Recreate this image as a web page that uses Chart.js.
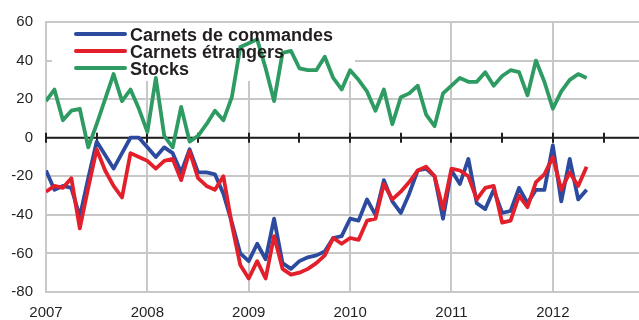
<!DOCTYPE html>
<html>
<head>
  <meta charset="UTF-8">
  <title>Carnets de commandes et stocks</title>
  <script src="https://cdn.jsdelivr.net/npm/chart.js"></script>
  <style>
    body {
      margin: 0;
      background: #fff;
    }
    .wrap {
      width: 639px;
      height: 320px;
    }
  </style>
</head>
<body>
  <div class="wrap">
    <canvas id="grafik"></canvas>
  </div>

  <script>
    // Soldes d'opinion mensuels, janvier 2007 - mai 2012
    const annees = [2007, 2008, 2009, 2010, 2011, 2012];
    const mois = [];
    for (const a of annees) {
      for (let m = 1; m <= 12; m++) {
        if (a === 2012 && m > 5) break;
        mois.push(a + '-' + String(m).padStart(2, '0'));
      }
    }

    const carnetsCommandes = [
      -17, -27, -25, -26, -41, -21, -2, -9, -16, -8, 0, 0,
      -5, -10, -5, -8, -18, -6, -18, -18, -19, -29, -44, -60,
      -64, -55, -63, -42, -65, -68, -64, -62, -61, -59, -52, -51,
      -42, -43, -32, -40, -22, -33, -39, -29, -17, -16, -20, -42,
      -17, -24, -11, -34, -37, -27, -39, -38, -26, -34, -27, -27,
      -4, -33, -11, -32, -27
    ];
    const carnetsEtrangers = [
      -28, -25, -26, -21, -47, -26, -6, -17, -25, -31, -8, -10,
      -12, -16, -12, -11, -22, -7, -21, -25, -27, -20, -45, -66,
      -73, -64, -73, -51, -68, -71, -70, -68, -65, -61, -52, -55,
      -52, -53, -43, -42, -24, -32, -28, -23, -17, -15, -20, -37,
      -16, -17, -20, -32, -26, -25, -44, -43, -30, -36, -23, -19,
      -10, -27, -18, -25, -15
    ];
    const stocks = [
      19, 25, 9, 14, 15, -5, 7, 20, 33, 19, 25, 15,
      3, 31, 1, -5, 16, -2, 1, 7, 14, 9, 21, 47,
      49, 51, 36, 19, 44, 45, 36, 35, 35, 42, 31, 25,
      35, 30, 24, 14, 25, 7, 21, 23, 27, 12, 6, 23,
      27, 31, 29, 29, 34, 27, 32, 35, 34, 22, 40, 29,
      15, 24, 30, 33, 31
    ];

    // "2008-03" -> 2008.1667 sur l'axe des x
    function enPoints(valeurs) {
      return valeurs.map((v, i) => {
        const [a, m] = mois[i].split('-').map(Number);
        return { x: a + (m - 1) / 12, y: v };
      });
    }

    const police = 'Liberation Sans, Arial, sans-serif';
    const gris = '#c8c8c8';
    const encre = '#231f20';

    // cadre blanc de la légende + axe zéro avec graduations semestrielles
    const decor = {
      id: 'decor',
      beforeDatasetsDraw(chart) {
        const { ctx, chartArea, scales: { x, y } } = chart;
        ctx.save();
        ctx.fillStyle = '#fff';
        ctx.fillRect(52, 23, 303, 58);

        const y0 = y.getPixelForValue(0);
        ctx.strokeStyle = encre;
        ctx.lineWidth = 2;
        ctx.beginPath();
        ctx.moveTo(chartArea.left, y0);
        ctx.lineTo(chartArea.right, y0);
        for (let t = annees[0]; t <= x.max; t += 0.5) {
          const px = Math.round(x.getPixelForValue(t));
          ctx.moveTo(px, y0 - 5);
          ctx.lineTo(px, y0 + 5);
        }
        ctx.stroke();
        ctx.restore();
      },
      afterDraw(chart) {
        const { ctx } = chart;
        ctx.save();
        ctx.font = 'bold 18px ' + police;
        ctx.textBaseline = 'middle';
        ctx.lineCap = 'round';
        [0, 1, 2].forEach((k, n) => {
          const ds = chart.data.datasets[k];
          const yy = 34 + n * 17;
          ctx.strokeStyle = ds.borderColor;
          ctx.lineWidth = 4;
          ctx.beginPath();
          ctx.moveTo(76, yy);
          ctx.lineTo(125, yy);
          ctx.stroke();
          ctx.fillStyle = encre;
          ctx.fillText(ds.label, 130, yy + 2);
        });
        ctx.restore();
      }
    };

    const ctx = document.getElementById('grafik').getContext('2d');
    const chart = new Chart(ctx, {
      type: 'line',
      data: {
        datasets: [
          {
            label: 'Carnets de commandes',
            data: enPoints(carnetsCommandes),
            borderColor: '#2c4a9e',
            order: 1
          },
          {
            label: 'Carnets étrangers',
            data: enPoints(carnetsEtrangers),
            borderColor: '#e21f2a',
            order: 0
          },
          {
            label: 'Stocks',
            data: enPoints(stocks),
            borderColor: '#2e9b62',
            order: 2
          }
        ]
      },
      options: {
        responsive: true,
        maintainAspectRatio: false,
        animation: false,
        layout: {
          padding: { top: 20, right: 0, left: 0, bottom: 0 }
        },
        elements: {
          line: { borderWidth: 3.8, tension: 0, borderJoinStyle: 'round', fill: false },
          point: { radius: 0 }
        },
        scales: {
          x: {
            type: 'linear',
            min: 2007,
            max: 2012.85,
            afterFit: s => { s.height = 28; },
            ticks: {
              stepSize: 1,
              includeBounds: false,
              padding: 12,
              color: encre,
              font: { family: police, size: 15 },
              callback: v => String(v)
            },
            grid: { color: gris, lineWidth: 2, drawTicks: false },
            border: { display: true, color: gris, width: 2 }
          },
          y: {
            min: -80,
            max: 60,
            afterFit: s => { s.width = 46; },
            ticks: {
              stepSize: 20,
              padding: 13,
              color: encre,
              font: { family: police, size: 15 }
            },
            grid: { color: gris, lineWidth: 2, drawTicks: false },
            border: { display: true, color: gris, width: 2 }
          }
        },
        plugins: {
          legend: { display: false },
          tooltip: { enabled: false }
        }
      },
      plugins: [decor]
    });
  </script>
</body>
</html>
